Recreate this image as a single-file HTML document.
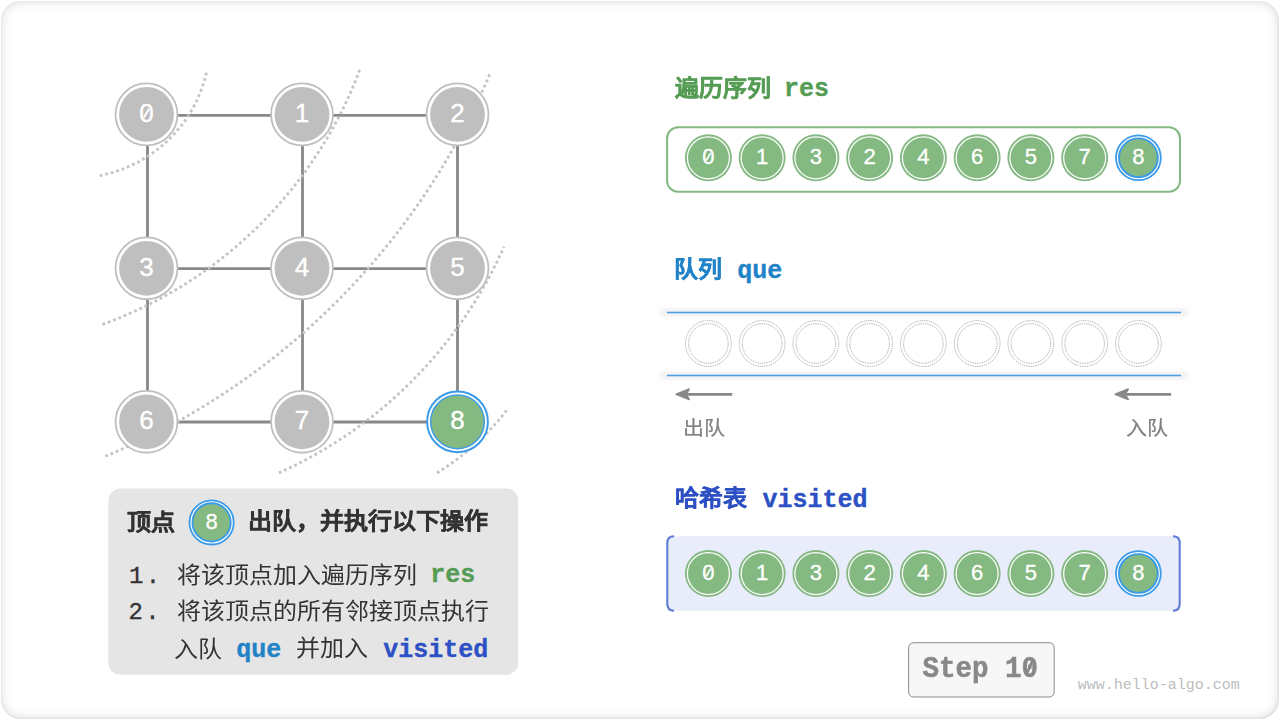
<!DOCTYPE html>
<html lang="zh-CN"><head><meta charset="utf-8">
<style>
html,body{margin:0;padding:0;background:#fff;}
body{width:1280px;height:720px;overflow:hidden;position:relative;font-family:"Liberation Sans",sans-serif;}
#card{position:absolute;left:1px;top:1px;width:1278px;height:717.5px;border-radius:20px;box-shadow:inset 0 0 12px rgba(0,0,0,0.15), inset 0 0 2px rgba(0,0,0,0.07), inset -1px -1px 3px rgba(0,0,0,0.05);}
svg{position:absolute;left:0;top:0;}
.nd{fill:#fff;font-family:"Liberation Sans",sans-serif;text-anchor:middle;}
.t{position:absolute;white-space:pre;line-height:1;}
</style></head><body>
<div id="card"></div>
<svg width="1280" height="720" viewBox="0 0 1280 720">
<defs><filter id="soft" x="-5%" y="-200%" width="110%" height="500%"><feGaussianBlur stdDeviation="2.5"/></filter></defs>
<g stroke="#888888" stroke-width="2.8"><line x1="147.5" y1="115.4" x2="457.5" y2="115.4"/><line x1="147.5" y1="268.6" x2="457.5" y2="268.6"/><line x1="147.5" y1="422.0" x2="457.5" y2="422.0"/><line x1="147.5" y1="115.4" x2="147.5" y2="422.0"/><line x1="302.5" y1="115.4" x2="302.5" y2="422.0"/><line x1="457.5" y1="115.4" x2="457.5" y2="422.0"/></g>
<g fill="none" stroke="#c4c4c4" stroke-width="2.8" stroke-dasharray="2.8 2.9"><path d="M99.7 175.6 A135.7 135.7 0 0 0 206.6 72.0"/><path d="M102.5 324.4 A431.3 431.3 0 0 0 360.3 68.3"/><path d="M105.3 456.3 A713.9 713.9 0 0 0 490.8 71.6"/><path d="M278.9 472.9 A445.9 445.9 0 0 0 504.0 246.7"/><path d="M437.0 473.0 A264.8 264.8 0 0 0 508.5 408.0"/></g>
<circle cx="146.5" cy="114.4" r="30.95" fill="#fff" stroke="#bfbfbf" stroke-width="1.8"/>
<circle cx="146.5" cy="114.4" r="27.4" fill="#bfbfbf"/>
<text x="146.5" y="122.04" class="nd" font-size="26" stroke="#fff" stroke-width="0.35">0</text><line x1="143.90" y1="117.52" x2="149.10" y2="108.68" stroke="#fff" stroke-width="1.95"/>
<circle cx="302.0" cy="114.4" r="30.95" fill="#fff" stroke="#bfbfbf" stroke-width="1.8"/>
<circle cx="302.0" cy="114.4" r="27.4" fill="#bfbfbf"/>
<text x="302.0" y="122.04" class="nd" font-size="26" stroke="#fff" stroke-width="0.35">1</text>
<circle cx="457.5" cy="114.4" r="30.95" fill="#fff" stroke="#bfbfbf" stroke-width="1.8"/>
<circle cx="457.5" cy="114.4" r="27.4" fill="#bfbfbf"/>
<text x="457.5" y="122.04" class="nd" font-size="26" stroke="#fff" stroke-width="0.35">2</text>
<circle cx="146.5" cy="268.3" r="30.95" fill="#fff" stroke="#bfbfbf" stroke-width="1.8"/>
<circle cx="146.5" cy="268.3" r="27.4" fill="#bfbfbf"/>
<text x="146.5" y="275.94" class="nd" font-size="26" stroke="#fff" stroke-width="0.35">3</text>
<circle cx="302.0" cy="268.3" r="30.95" fill="#fff" stroke="#bfbfbf" stroke-width="1.8"/>
<circle cx="302.0" cy="268.3" r="27.4" fill="#bfbfbf"/>
<text x="302.0" y="275.94" class="nd" font-size="26" stroke="#fff" stroke-width="0.35">4</text>
<circle cx="457.5" cy="268.3" r="30.95" fill="#fff" stroke="#bfbfbf" stroke-width="1.8"/>
<circle cx="457.5" cy="268.3" r="27.4" fill="#bfbfbf"/>
<text x="457.5" y="275.94" class="nd" font-size="26" stroke="#fff" stroke-width="0.35">5</text>
<circle cx="146.5" cy="421.8" r="30.95" fill="#fff" stroke="#bfbfbf" stroke-width="1.8"/>
<circle cx="146.5" cy="421.8" r="27.4" fill="#bfbfbf"/>
<text x="146.5" y="429.44" class="nd" font-size="26" stroke="#fff" stroke-width="0.35">6</text>
<circle cx="302.0" cy="421.8" r="30.95" fill="#fff" stroke="#bfbfbf" stroke-width="1.8"/>
<circle cx="302.0" cy="421.8" r="27.4" fill="#bfbfbf"/>
<text x="302.0" y="429.44" class="nd" font-size="26" stroke="#fff" stroke-width="0.35">7</text>
<circle cx="457.5" cy="421.8" r="30.4" fill="#fff" stroke="#3b9be8" stroke-width="2"/>
<circle cx="457.5" cy="421.8" r="26.9" fill="#84b982" stroke="#3b9be8" stroke-width="1.4"/>
<text x="457.5" y="429.44" class="nd" font-size="26" stroke="#fff" stroke-width="0.35">8</text>
<rect x="667.1" y="127.3" width="512.9" height="64.4" rx="11" fill="#fff" stroke="#84b982" stroke-width="2"/>
<circle cx="708.4" cy="157.8" r="23.5" fill="#84b982"/>
<circle cx="708.4" cy="157.8" r="21.0" fill="none" stroke="#fff" stroke-width="1.25"/>
<text x="708.4" y="164.37" class="nd" font-size="22" stroke="#fff" stroke-width="0.3">0</text><line x1="706.20" y1="160.54" x2="710.60" y2="153.06" stroke="#fff" stroke-width="1.65"/>
<circle cx="762.15" cy="157.8" r="23.5" fill="#84b982"/>
<circle cx="762.15" cy="157.8" r="21.0" fill="none" stroke="#fff" stroke-width="1.25"/>
<text x="762.15" y="164.37" class="nd" font-size="22" stroke="#fff" stroke-width="0.3">1</text>
<circle cx="815.9" cy="157.8" r="23.5" fill="#84b982"/>
<circle cx="815.9" cy="157.8" r="21.0" fill="none" stroke="#fff" stroke-width="1.25"/>
<text x="815.9" y="164.37" class="nd" font-size="22" stroke="#fff" stroke-width="0.3">3</text>
<circle cx="869.65" cy="157.8" r="23.5" fill="#84b982"/>
<circle cx="869.65" cy="157.8" r="21.0" fill="none" stroke="#fff" stroke-width="1.25"/>
<text x="869.65" y="164.37" class="nd" font-size="22" stroke="#fff" stroke-width="0.3">2</text>
<circle cx="923.4" cy="157.8" r="23.5" fill="#84b982"/>
<circle cx="923.4" cy="157.8" r="21.0" fill="none" stroke="#fff" stroke-width="1.25"/>
<text x="923.4" y="164.37" class="nd" font-size="22" stroke="#fff" stroke-width="0.3">4</text>
<circle cx="977.15" cy="157.8" r="23.5" fill="#84b982"/>
<circle cx="977.15" cy="157.8" r="21.0" fill="none" stroke="#fff" stroke-width="1.25"/>
<text x="977.15" y="164.37" class="nd" font-size="22" stroke="#fff" stroke-width="0.3">6</text>
<circle cx="1030.9" cy="157.8" r="23.5" fill="#84b982"/>
<circle cx="1030.9" cy="157.8" r="21.0" fill="none" stroke="#fff" stroke-width="1.25"/>
<text x="1030.9" y="164.37" class="nd" font-size="22" stroke="#fff" stroke-width="0.3">5</text>
<circle cx="1084.65" cy="157.8" r="23.5" fill="#84b982"/>
<circle cx="1084.65" cy="157.8" r="21.0" fill="none" stroke="#fff" stroke-width="1.25"/>
<text x="1084.65" y="164.37" class="nd" font-size="22" stroke="#fff" stroke-width="0.3">7</text>
<circle cx="1138.4" cy="157.8" r="22.400000000000002" fill="#fff" stroke="#3b9be8" stroke-width="1.8"/>
<circle cx="1138.4" cy="157.8" r="19.400000000000002" fill="#84b982" stroke="#3b9be8" stroke-width="1.9"/>
<text x="1138.4" y="164.37" class="nd" font-size="22" stroke="#fff" stroke-width="0.3">8</text>
<g filter="url(#soft)"><line x1="661" y1="312.5" x2="1187" y2="312.5" stroke="#e2e2e2" stroke-width="4"/><line x1="661" y1="375.5" x2="1187" y2="375.5" stroke="#e2e2e2" stroke-width="4"/></g>
<line x1="667" y1="312.5" x2="1181" y2="312.5" stroke="#4a9fe6" stroke-width="1.3"/>
<line x1="667" y1="375.5" x2="1181" y2="375.5" stroke="#4a9fe6" stroke-width="1.3"/>
<circle cx="708.4" cy="343.5" r="22.9" fill="none" stroke="#9c9c9c" stroke-width="0.8" stroke-dasharray="1.4 0.9"/><circle cx="708.4" cy="343.5" r="19.799999999999997" fill="none" stroke="#9c9c9c" stroke-width="0.8" stroke-dasharray="1.4 0.9"/>
<circle cx="762.15" cy="343.5" r="22.9" fill="none" stroke="#9c9c9c" stroke-width="0.8" stroke-dasharray="1.4 0.9"/><circle cx="762.15" cy="343.5" r="19.799999999999997" fill="none" stroke="#9c9c9c" stroke-width="0.8" stroke-dasharray="1.4 0.9"/>
<circle cx="815.9" cy="343.5" r="22.9" fill="none" stroke="#9c9c9c" stroke-width="0.8" stroke-dasharray="1.4 0.9"/><circle cx="815.9" cy="343.5" r="19.799999999999997" fill="none" stroke="#9c9c9c" stroke-width="0.8" stroke-dasharray="1.4 0.9"/>
<circle cx="869.65" cy="343.5" r="22.9" fill="none" stroke="#9c9c9c" stroke-width="0.8" stroke-dasharray="1.4 0.9"/><circle cx="869.65" cy="343.5" r="19.799999999999997" fill="none" stroke="#9c9c9c" stroke-width="0.8" stroke-dasharray="1.4 0.9"/>
<circle cx="923.4" cy="343.5" r="22.9" fill="none" stroke="#9c9c9c" stroke-width="0.8" stroke-dasharray="1.4 0.9"/><circle cx="923.4" cy="343.5" r="19.799999999999997" fill="none" stroke="#9c9c9c" stroke-width="0.8" stroke-dasharray="1.4 0.9"/>
<circle cx="977.15" cy="343.5" r="22.9" fill="none" stroke="#9c9c9c" stroke-width="0.8" stroke-dasharray="1.4 0.9"/><circle cx="977.15" cy="343.5" r="19.799999999999997" fill="none" stroke="#9c9c9c" stroke-width="0.8" stroke-dasharray="1.4 0.9"/>
<circle cx="1030.9" cy="343.5" r="22.9" fill="none" stroke="#9c9c9c" stroke-width="0.8" stroke-dasharray="1.4 0.9"/><circle cx="1030.9" cy="343.5" r="19.799999999999997" fill="none" stroke="#9c9c9c" stroke-width="0.8" stroke-dasharray="1.4 0.9"/>
<circle cx="1084.65" cy="343.5" r="22.9" fill="none" stroke="#9c9c9c" stroke-width="0.8" stroke-dasharray="1.4 0.9"/><circle cx="1084.65" cy="343.5" r="19.799999999999997" fill="none" stroke="#9c9c9c" stroke-width="0.8" stroke-dasharray="1.4 0.9"/>
<circle cx="1138.4" cy="343.5" r="22.9" fill="none" stroke="#9c9c9c" stroke-width="0.8" stroke-dasharray="1.4 0.9"/><circle cx="1138.4" cy="343.5" r="19.799999999999997" fill="none" stroke="#9c9c9c" stroke-width="0.8" stroke-dasharray="1.4 0.9"/>
<line x1="684.2" y1="394.3" x2="732.2" y2="394.3" stroke="#888" stroke-width="2.7"/><path d="M676.2 394.3 L689.2 389.1 L686.2 394.3 L689.2 399.5 Z" fill="#888" stroke="#888" stroke-width="1.6" stroke-linejoin="round"/>
<line x1="1123.2" y1="394.3" x2="1171.1" y2="394.3" stroke="#888" stroke-width="2.7"/><path d="M1115.2 394.3 L1128.2 389.1 L1125.2 394.3 L1128.2 399.5 Z" fill="#888" stroke="#888" stroke-width="1.6" stroke-linejoin="round"/>
<rect x="668" y="536.2" width="512" height="74.6" fill="#e9ecfa"/>
<path d="M674 536.3 Q667.3 536.3 667.3 543 L667.3 604 Q667.3 610.7 674 610.7" fill="none" stroke="#5a7ad6" stroke-width="2"/>
<path d="M1173 536.3 Q1179.7 536.3 1179.7 543 L1179.7 604 Q1179.7 610.7 1173 610.7" fill="none" stroke="#5a7ad6" stroke-width="2"/>
<circle cx="708.4" cy="573.5" r="23.5" fill="#84b982"/>
<circle cx="708.4" cy="573.5" r="21.0" fill="none" stroke="#fff" stroke-width="1.25"/>
<text x="708.4" y="580.07" class="nd" font-size="22" stroke="#fff" stroke-width="0.3">0</text><line x1="706.20" y1="576.24" x2="710.60" y2="568.76" stroke="#fff" stroke-width="1.65"/>
<circle cx="762.15" cy="573.5" r="23.5" fill="#84b982"/>
<circle cx="762.15" cy="573.5" r="21.0" fill="none" stroke="#fff" stroke-width="1.25"/>
<text x="762.15" y="580.07" class="nd" font-size="22" stroke="#fff" stroke-width="0.3">1</text>
<circle cx="815.9" cy="573.5" r="23.5" fill="#84b982"/>
<circle cx="815.9" cy="573.5" r="21.0" fill="none" stroke="#fff" stroke-width="1.25"/>
<text x="815.9" y="580.07" class="nd" font-size="22" stroke="#fff" stroke-width="0.3">3</text>
<circle cx="869.65" cy="573.5" r="23.5" fill="#84b982"/>
<circle cx="869.65" cy="573.5" r="21.0" fill="none" stroke="#fff" stroke-width="1.25"/>
<text x="869.65" y="580.07" class="nd" font-size="22" stroke="#fff" stroke-width="0.3">2</text>
<circle cx="923.4" cy="573.5" r="23.5" fill="#84b982"/>
<circle cx="923.4" cy="573.5" r="21.0" fill="none" stroke="#fff" stroke-width="1.25"/>
<text x="923.4" y="580.07" class="nd" font-size="22" stroke="#fff" stroke-width="0.3">4</text>
<circle cx="977.15" cy="573.5" r="23.5" fill="#84b982"/>
<circle cx="977.15" cy="573.5" r="21.0" fill="none" stroke="#fff" stroke-width="1.25"/>
<text x="977.15" y="580.07" class="nd" font-size="22" stroke="#fff" stroke-width="0.3">6</text>
<circle cx="1030.9" cy="573.5" r="23.5" fill="#84b982"/>
<circle cx="1030.9" cy="573.5" r="21.0" fill="none" stroke="#fff" stroke-width="1.25"/>
<text x="1030.9" y="580.07" class="nd" font-size="22" stroke="#fff" stroke-width="0.3">5</text>
<circle cx="1084.65" cy="573.5" r="23.5" fill="#84b982"/>
<circle cx="1084.65" cy="573.5" r="21.0" fill="none" stroke="#fff" stroke-width="1.25"/>
<text x="1084.65" y="580.07" class="nd" font-size="22" stroke="#fff" stroke-width="0.3">7</text>
<circle cx="1138.4" cy="573.5" r="22.400000000000002" fill="#fff" stroke="#3b9be8" stroke-width="1.8"/>
<circle cx="1138.4" cy="573.5" r="19.400000000000002" fill="#84b982" stroke="#3b9be8" stroke-width="1.9"/>
<text x="1138.4" y="580.07" class="nd" font-size="22" stroke="#fff" stroke-width="0.3">8</text>
<rect x="108.4" y="488.4" width="409.8" height="186.4" rx="12" fill="#e5e5e5"/>
<circle cx="211.6" cy="522.4" r="22.1" fill="#fff" stroke="#3b9be8" stroke-width="1.8"/>
<circle cx="211.6" cy="522.4" r="19.1" fill="#84b982" stroke="#3b9be8" stroke-width="1.9"/>
<text x="211.6" y="528.97" class="nd" font-size="22" stroke="#fff" stroke-width="0.3">8</text>
<rect x="908.6" y="642.7" width="145.6" height="54.3" rx="5" fill="#f7f7f7" stroke="#8a8a8a" stroke-width="1"/>
</svg>
<div class="t" style="left:674.6px;top:76.5px;font-family:'Liberation Sans',sans-serif;font-size:24px;font-weight:700;color:#559c55;-webkit-text-stroke:0.35px #559c55;transform-origin:0 0;transform:scale(1,0.94);">遍历序列</div>
<div class="t" style="left:784.1px;top:76.6px;font-family:'Liberation Mono',monospace;font-size:25px;font-weight:700;color:#559c55;-webkit-text-stroke:0.35px #559c55;">res</div>
<div class="t" style="left:674.2px;top:258.3px;font-family:'Liberation Sans',sans-serif;font-size:24px;font-weight:700;color:#2183c7;-webkit-text-stroke:0.35px #2183c7;transform-origin:0 0;transform:scale(1,0.94);">队列</div>
<div class="t" style="left:737.3px;top:259.2px;font-family:'Liberation Mono',monospace;font-size:25px;font-weight:700;color:#2183c7;-webkit-text-stroke:0.35px #2183c7;">que</div>
<div class="t" style="left:675.2px;top:487.2px;font-family:'Liberation Sans',sans-serif;font-size:24px;font-weight:700;color:#2d50c4;-webkit-text-stroke:0.35px #2d50c4;transform-origin:0 0;transform:scale(1,0.94);">哈希表</div>
<div class="t" style="left:762.6px;top:487.5px;font-family:'Liberation Mono',monospace;font-size:25px;font-weight:700;color:#2d50c4;-webkit-text-stroke:0.35px #2d50c4;">visited</div>
<div class="t" style="left:682.5px;top:418.4px;font-family:'Liberation Sans',sans-serif;font-size:21px;font-weight:400;color:#808080;-webkit-text-stroke:0.25px #808080;transform-origin:0 0;transform:scale(1,0.94);">出队</div>
<div class="t" style="left:1125.5px;top:418.4px;font-family:'Liberation Sans',sans-serif;font-size:21px;font-weight:400;color:#808080;-webkit-text-stroke:0.25px #808080;transform-origin:0 0;transform:scale(1,0.94);">入队</div>
<div class="t" style="left:126.9px;top:510.5px;font-family:'Liberation Sans',sans-serif;font-size:24px;font-weight:700;color:#333333;-webkit-text-stroke:0.35px #333333;transform-origin:0 0;transform:scale(1,0.94);">顶点</div>
<div class="t" style="left:248.2px;top:510.1px;font-family:'Liberation Sans',sans-serif;font-size:24px;font-weight:700;color:#333333;-webkit-text-stroke:0.35px #333333;transform-origin:0 0;transform:scale(1,0.94);">出队，并执行以下操作</div>
<div class="t" style="left:129.0px;top:565.2px;font-family:'Liberation Mono',monospace;font-size:24px;font-weight:400;color:#333333;letter-spacing:2.4px;-webkit-text-stroke:0.3px #333;">1.</div>
<div class="t" style="left:177.0px;top:564.4px;font-family:'Liberation Sans',sans-serif;font-size:24px;font-weight:400;color:#333333;transform-origin:0 0;transform:scale(1,0.94);">将该顶点加入遍历序列</div>
<div class="t" style="left:430.2px;top:563.4px;font-family:'Liberation Mono',monospace;font-size:25px;font-weight:700;color:#559c55;-webkit-text-stroke:0.35px #559c55;">res</div>
<div class="t" style="left:128.4px;top:601.1px;font-family:'Liberation Mono',monospace;font-size:24px;font-weight:400;color:#333333;letter-spacing:2.4px;-webkit-text-stroke:0.3px #333;">2.</div>
<div class="t" style="left:177.0px;top:600.3px;font-family:'Liberation Sans',sans-serif;font-size:24px;font-weight:400;color:#333333;transform-origin:0 0;transform:scale(1,0.94);">将该顶点的所有邻接顶点执行</div>
<div class="t" style="left:174.0px;top:637.5px;font-family:'Liberation Sans',sans-serif;font-size:24px;font-weight:400;color:#333333;transform-origin:0 0;transform:scale(1,0.94);">入队</div>
<div class="t" style="left:236.2px;top:637.9px;font-family:'Liberation Mono',monospace;font-size:25px;font-weight:700;color:#2183c7;-webkit-text-stroke:0.35px #2183c7;">que</div>
<div class="t" style="left:295.7px;top:636.6px;font-family:'Liberation Sans',sans-serif;font-size:24px;font-weight:400;color:#333333;transform-origin:0 0;transform:scale(1,0.94);">并加入</div>
<div class="t" style="left:383.2px;top:637.7px;font-family:'Liberation Mono',monospace;font-size:25px;font-weight:700;color:#2d50c4;-webkit-text-stroke:0.35px #2d50c4;">visited</div>
<div class="t" style="left:922.6px;top:653.9px;font-family:'Liberation Mono',monospace;font-size:27.5px;font-weight:700;color:#888888;-webkit-text-stroke:0.5px #888;transform-origin:0 0;transform:scale(1,1.08);">Step 10</div>
<div class="t" style="left:1077.7px;top:678.2px;font-family:'Liberation Mono',monospace;font-size:15px;font-weight:400;color:#bdbdbd;">www.hello-algo.com</div>
<svg width="1280" height="720" viewBox="0 0 1280 720" style="pointer-events:none"><line x1="1027.0" y1="673.6" x2="1032.4" y2="660.6" stroke="#888" stroke-width="2.6" stroke-linecap="round"/></svg>
</body></html>
